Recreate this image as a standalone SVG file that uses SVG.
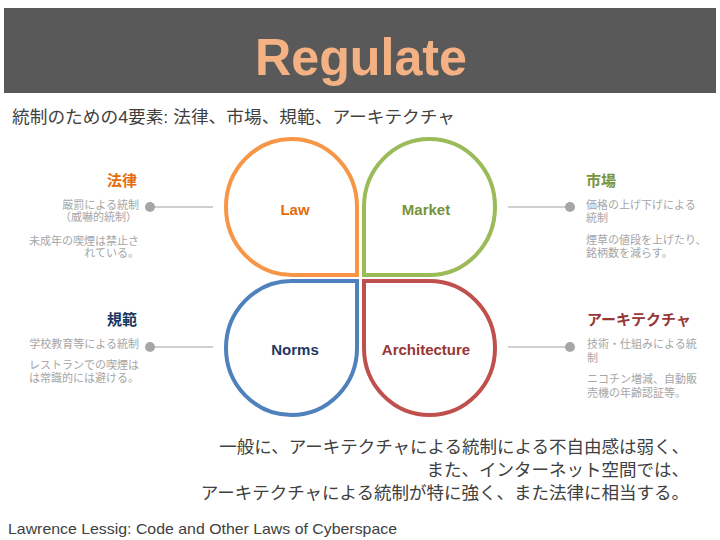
<svg xmlns="http://www.w3.org/2000/svg" width="720" height="540" viewBox="0 0 720 540">
<style>
.jp{font-family:"Liberation Sans","Noto Sans CJK JP",sans-serif}
.body{font-size:11px;fill:#A6A6A6}
.head{font-size:15px;font-weight:bold}
.lbl{font-family:"Liberation Sans",sans-serif;font-size:15px;font-weight:bold;text-anchor:middle}
.petal{fill:#FFFFFF;stroke-width:4;stroke-linejoin:miter}
.conn{stroke:#BFBFBF;stroke-width:1.5}
.dot{fill:#A6A6A6}
</style>
<rect x="0" y="0" width="720" height="540" fill="#FFFFFF"/>
<g id="title">
<rect x="4" y="8" width="712" height="85" fill="#595959"/>
<text x="361" y="75" text-anchor="middle" font-family="Liberation Sans,sans-serif" font-weight="bold" font-size="52" fill="#F4B183" textLength="212" lengthAdjust="spacingAndGlyphs">Regulate</text>
</g>
<text class="jp" x="12" y="123" font-size="17" fill="#404040" textLength="443" lengthAdjust="spacingAndGlyphs">統制のための4要素: 法律、市場、規範、アーキテクチャ</text>
<g id="connectors">
<line class="conn" x1="150" y1="207" x2="213" y2="207"/>
<circle class="dot" cx="150" cy="207" r="5"/>
<line class="conn" x1="508" y1="207" x2="570" y2="207"/>
<circle class="dot" cx="570" cy="207" r="5"/>
<line class="conn" x1="150" y1="347" x2="213" y2="347"/>
<circle class="dot" cx="150" cy="347" r="5"/>
<line class="conn" x1="508" y1="347" x2="570" y2="347"/>
<circle class="dot" cx="570" cy="347" r="5"/>
</g>
<g id="law">
<path class="petal" stroke="#F79646" d="M357,275 H291.5 A65.5,68 0 0 1 226,207 A65.5,68 0 0 1 291.5,139 A65.5,68 0 0 1 357,207 Z"/>
<text class="lbl" x="295" y="215" fill="#E46C0A">Law</text>
</g>
<g id="market">
<path class="petal" stroke="#9BBB59" d="M364,275 V207 A65.5,68 0 0 1 429.5,139 A65.5,68 0 0 1 495,207 A65.5,68 0 0 1 429.5,275 Z"/>
<text class="lbl" x="426" y="215" fill="#77933C">Market</text>
</g>
<g id="norms">
<path class="petal" stroke="#4F81BD" d="M357,281 V348 A65.5,67 0 0 1 291.5,415 A65.5,67 0 0 1 226,348 A65.5,67 0 0 1 291.5,281 Z"/>
<text class="lbl" x="295" y="355" fill="#1F3864">Norms</text>
</g>
<g id="architecture">
<path class="petal" stroke="#C0504D" d="M364,281 H429.5 A65.5,67 0 0 1 495,348 A65.5,67 0 0 1 429.5,415 A65.5,67 0 0 1 364,348 Z"/>
<text class="lbl" x="426" y="355" fill="#953735">Architecture</text>
</g>
<g id="law-desc" class="jp" text-anchor="end">
<text class="head" x="137" y="186" fill="#E46C0A">法律</text>
<text class="body" x="139" y="209">厳罰による統制</text>
<text class="body" x="137" y="221">（威嚇的統制）</text>
<text class="body" x="139" y="245">未成年の喫煙は禁止さ</text>
<text class="body" x="139" y="257">れている。</text>
</g>
<g id="market-desc" class="jp">
<text class="head" x="586" y="186" fill="#77933C">市場</text>
<text class="body" x="586" y="209">価格の上げ下げによる</text>
<text class="body" x="586" y="222">統制</text>
<text class="body" x="586" y="244">煙草の値段を上げたり、</text>
<text class="body" x="586" y="257">銘柄数を減らす。</text>
</g>
<g id="norms-desc" class="jp" text-anchor="end">
<text class="head" x="137" y="325" fill="#17375E">規範</text>
<text class="body" x="139" y="348">学校教育等による統制</text>
<text class="body" x="139" y="369">レストランでの喫煙は</text>
<text class="body" x="139" y="382">は常識的には避ける。</text>
</g>
<g id="architecture-desc" class="jp">
<text class="head" x="587" y="325" fill="#953735">アーキテクチャ</text>
<text class="body" x="587" y="348">技術・仕組みによる統</text>
<text class="body" x="587" y="362">制</text>
<text class="body" x="587" y="383">ニコチン増減、自動販</text>
<text class="body" x="587" y="397">売機の年齢認証等。</text>
</g>
<g id="summary" class="jp" text-anchor="end" font-size="17.5" fill="#404040">
<text x="689" y="453">一般に、アーキテクチャによる統制による不自由感は弱く、</text>
<text x="689" y="476">また、インターネット空間では、</text>
<text x="689" y="499">アーキテクチャによる統制が特に強く、また法律に相当する。</text>
</g>
<text x="8" y="534" font-family="Liberation Sans,sans-serif" font-size="15" fill="#404040" textLength="389" lengthAdjust="spacingAndGlyphs">Lawrence Lessig: Code and Other Laws of Cyberspace</text>
</svg>
